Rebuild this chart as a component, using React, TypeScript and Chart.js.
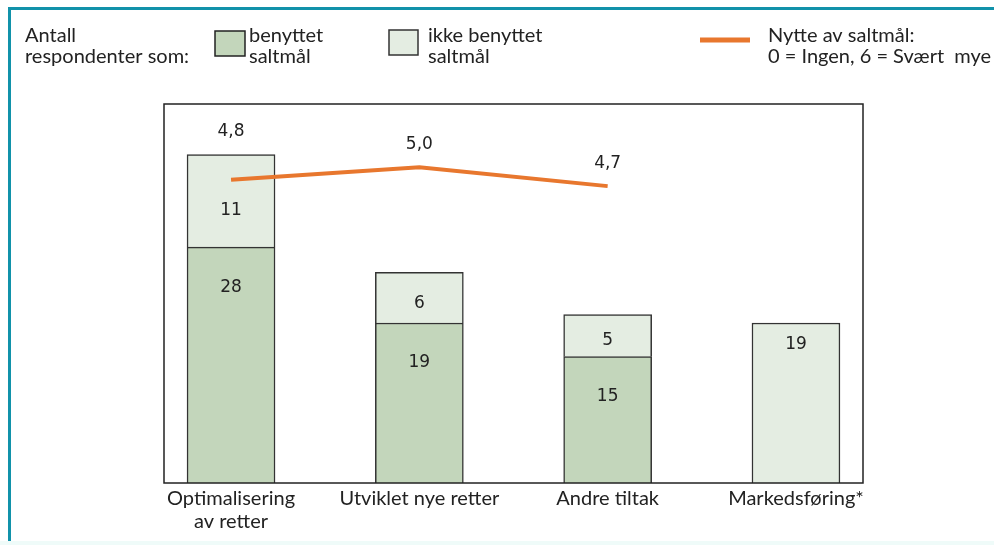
import React, { useEffect, useRef } from "react";
import { Chart, registerables } from "chart.js";

Chart.register(...registerables);

const categories: string[][] = [
  ["Optimalisering", "av retter"],
  ["Utviklet nye retter"],
  ["Andre tiltak"],
  ["Markedsføring*"],
];
const usedValues: (number | null)[] = [28, 19, 15, null];
const notUsedValues: number[] = [11, 6, 5, 19];
const usefulness: number[] = [4.8, 5.0, 4.7];

const legendTitle = ["Antall", "respondenter som:"];
const usedLabel = ["benyttet", "saltmål"];
const notUsedLabel = ["ikke benyttet", "saltmål"];
const lineLabel = ["Nytte av saltmål:", "0 = Ingen, 6 = Svært  mye"];

const DARK = "#c3d6bb";
const LIGHT = "#e4ede2";
const ORANGE = "#e8772e";
const TEXT = "#222222";
const UI_FONT = "Lato, 'Open Sans', sans-serif";
const NUM_FONT = "'DejaVu Sans', Verdana, sans-serif";

const overlayPlugin = {
  id: "overlay",
  afterDatasetsDraw(chart: any) {
    const { ctx, chartArea } = chart;
    const xs = chart.scales.x;
    const ys = chart.scales.y;
    const y2 = chart.scales.y2;
    ctx.save();
    // plot frame
    ctx.strokeStyle = "#222";
    ctx.lineWidth = 1.5;
    ctx.strokeRect(chartArea.left, chartArea.top, chartArea.right - chartArea.left, chartArea.bottom - chartArea.top);

    // bar value labels
    ctx.fillStyle = TEXT;
    ctx.font = `17px ${NUM_FONT}`;
    ctx.textAlign = "center";
    ctx.textBaseline = "middle";
    categories.forEach((_, i) => {
      const cx = xs.getPixelForValue(i);
      const u = usedValues[i];
      const n = notUsedValues[i];
      const base = ys.getPixelForValue(0);
      const uTop = ys.getPixelForValue(u ?? 0);
      const total = (u ?? 0) + n;
      const nTop = ys.getPixelForValue(total);
      if (u != null) {
        const h = base - uTop;
        ctx.fillText(String(u), cx, uTop + Math.min(40, h / 2));
        const h2 = uTop - nTop;
        ctx.fillText(String(n), cx, nTop + h2 / 2 + Math.min(10, h2 * 0.12));
      } else {
        const h2 = base - nTop;
        ctx.fillText(String(n), cx, nTop + Math.min(22, h2 / 2));
      }
      if (i < usefulness.length) {
        const py = y2.getPixelForValue(usefulness[i]);
        const top = Math.min(py, nTop);
        ctx.fillText(usefulness[i].toFixed(1).replace(".", ","), cx, top - 23);
      }
    });

    // category labels
    ctx.font = `20px ${UI_FONT}`;
    ctx.fillStyle = TEXT;
    categories.forEach((lines, i) => {
      const cx = xs.getPixelForValue(i);
      lines.forEach((t, j) => {
        ctx.fillText(t, cx, chartArea.bottom + 16 + j * 23);
      });
    });

    // legend
    ctx.textAlign = "left";
    ctx.textBaseline = "alphabetic";
    ctx.font = `20px ${UI_FONT}`;
    const drawLines = (lines: string[], x: number) => {
      lines.forEach((t, j) => ctx.fillText(t, x, 42 + j * 21));
    };
    drawLines(legendTitle, 25);
    ctx.fillStyle = DARK;
    ctx.fillRect(215, 31, 30, 25);
    ctx.strokeStyle = "#222";
    ctx.lineWidth = 1.5;
    ctx.strokeRect(215, 31, 30, 25);
    ctx.fillStyle = TEXT;
    drawLines(usedLabel, 249);
    ctx.fillStyle = LIGHT;
    ctx.fillRect(389, 30, 29, 25);
    ctx.strokeStyle = "#333";
    ctx.strokeRect(389, 30, 29, 25);
    ctx.fillStyle = TEXT;
    drawLines(notUsedLabel, 428);
    ctx.strokeStyle = ORANGE;
    ctx.lineWidth = 5;
    ctx.beginPath();
    ctx.moveTo(700, 40);
    ctx.lineTo(750, 40);
    ctx.stroke();
    drawLines(lineLabel, 768);
    ctx.restore();
  },
};

function App() {
  const ref = useRef<HTMLCanvasElement | null>(null);
  useEffect(() => {
    if (!ref.current) return;
    const chart = new Chart(ref.current, {
      type: "bar",
      data: {
        datasets: [
          {
            type: "line",
            label: "Nytte",
            data: usefulness.map((v, i) => ({ x: i, y: v })),
            yAxisID: "y2",
            borderColor: ORANGE,
            borderWidth: 4,
            pointRadius: 0,
            tension: 0,
            order: 0,
          } as any,
          {
            label: "benyttet saltmål",
            data: usedValues.map((v, i) => ({ x: i, y: v })),
            backgroundColor: DARK,
            borderColor: "#333",
            borderWidth: 1.5,
            barThickness: 88,
            stack: "s",
            order: 1,
          },
          {
            label: "ikke benyttet saltmål",
            data: notUsedValues.map((v, i) => ({ x: i, y: v })),
            backgroundColor: LIGHT,
            borderColor: "#333",
            borderWidth: 1.5,
            barThickness: 88,
            stack: "s",
            order: 1,
          },
        ],
      },
      options: {
        animation: false,
        responsive: false,
        maintainAspectRatio: false,
        layout: { padding: { left: 164, right: 131, top: 104, bottom: 62 } },
        plugins: { legend: { display: false }, tooltip: { enabled: false } },
        scales: {
          x: { type: "linear", offset: false, min: -0.356, max: 3.356, stacked: true, display: false },
          y: { min: 0, max: 45, stacked: true, display: false },
          y2: { min: 0, max: 6, display: false },
        },
      },
      plugins: [overlayPlugin],
    });
    return () => chart.destroy();
  }, []);
  return (
    <div style={{ position: "fixed", left: 0, top: 0, width: 994, height: 545, background: "#fff", overflow: "hidden" }}>
      <div
        style={{
          position: "absolute",
          left: 8,
          top: 7,
          right: 0,
          bottom: 4,
          borderTop: "3px solid #1192aa",
          borderLeft: "3px solid #1192aa",
        }}
      />
      <div style={{ position: "absolute", left: 0, right: 0, bottom: 0, height: 4, background: "#effbf9" }} />
      <canvas ref={ref} width={994} height={545} style={{ position: "absolute", left: 0, top: 0 }} />
    </div>
  );
}

export default App;
